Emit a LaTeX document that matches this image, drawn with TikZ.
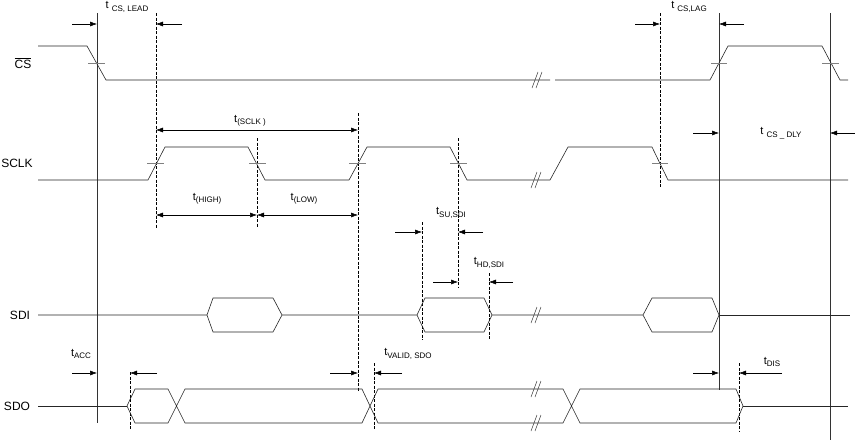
\documentclass[tikz,border=0pt]{standalone}
\usepackage{fontspec}
\setmainfont{Liberation Sans}
\usetikzlibrary{arrows.meta}
\newcommand{\tlab}[2]{{\fontsize{11}{13}\selectfont t#1\raisebox{-2.5pt}{\fontsize{8}{9}\selectfont #2}}}
\begin{document}
\begin{tikzpicture}[x=1pt,y=-1pt,
  wave/.style={line width=0.6pt,black!85},
  tick/.style={line width=0.6pt,black!50},
  solidv/.style={line width=0.5pt,black!80},
  dashv/.style={line width=0.5pt,black,dash pattern=on 3pt off 1.5pt},
  dimarrow/.style={line width=0.5pt,-{Latex[length=7pt,width=5pt]}},
  dimboth/.style={line width=0.5pt,{Latex[length=7pt,width=5pt]}-{Latex[length=7pt,width=5pt]}},
  sig/.style={font=\fontsize{12}{14}\selectfont,inner sep=0pt},
  lbl/.style={inner sep=0pt},
  brk/.pic={\draw[line width=0.5pt,black!80] (-5,8)--(1,-8) (-1,8)--(5,-8);}
]
\useasboundingbox (0,0) rectangle (855,442);

% signal names
\node[sig] (ncs) at (23,63) {$\overline{\mbox{CS}}$};
\node[sig] (nsclk) at (17,163) {SCLK};
\node[sig] (nsdi) at (20,315) {SDI};
\node[sig] (nsdo) at (17,406) {SDO};

% vertical reference lines
\draw[solidv] (97,13) -- (97,423);
\draw[solidv] (719,13) -- (719,390);
\draw[solidv] (830,13) -- (830,440);
\draw[dashv] (156,13) -- (156,228);
\draw[dashv] (257,138) -- (257,228);
\draw[dashv] (358,113) -- (358,391);
\draw[dashv] (458,138) -- (458,288);
\draw[dashv] (660,13) -- (660,188);
\draw[dashv] (422,222) -- (422,340);
\draw[dashv] (489,273) -- (489,340);
\draw[dashv] (130,372) -- (130,430);
\draw[dashv] (374,363) -- (374,430);
\draw[dashv] (739,363) -- (739,432);

% CS
\draw[wave] (38,46) -- (87,46) -- (106,80) -- (550,80);
\draw[wave] (555,80) -- (710,80) -- (728,46) -- (822,46) -- (840,80) -- (848,80);
\pic at (537,80) {brk};
\draw[tick] (88,63) -- (105,63);
\draw[tick] (711,63) -- (727,63);
\draw[tick] (822,63) -- (839,63);

% SCLK
\draw[wave] (38,180) -- (148,180) -- (165,147) -- (248,147) -- (265,180) -- (349,180)
  -- (367,147) -- (450,147) -- (467,180) -- (550,180) -- (568,147) -- (652,147)
  -- (668,180) -- (848,180);
\pic at (536,180) {brk};
\draw[tick] (147,163) -- (164,163);
\draw[tick] (249,163) -- (266,163);
\draw[tick] (349,163) -- (366,163);
\draw[tick] (450,163) -- (467,163);
\draw[tick] (652,163) -- (668,163);

% SDI
\draw[wave] (38,315) -- (207,315) -- (213,298) -- (273,298) -- (282,315) -- (273,332) -- (213,332) -- (207,315);
\draw[wave] (282,315) -- (417,315) -- (425,298) -- (484,298) -- (492,315) -- (484,332) -- (425,332) -- (417,315);
\draw[wave] (492,315) -- (643,315) -- (652,298) -- (712,298) -- (719,315) -- (712,332) -- (652,332) -- (643,315);
\draw[wave] (719,315) -- (850,315);
\pic at (536,315) {brk};

% SDO
\draw[wave] (38,406) -- (127,406);
\draw[wave] (127,406) -- (135,389) -- (168,389) -- (185,423) -- (362,423) -- (378,389)
  -- (563,389) -- (580,423) -- (736,423) -- (743,406) -- (736,389) -- (580,389)
  -- (563,423) -- (378,423) -- (362,389) -- (185,389) -- (168,423) -- (135,423) -- cycle;
\draw[wave] (743,406) -- (848,406);
\pic at (536,389) {brk};
\pic at (536,423) {brk};

% t CS,LEAD
\draw[dimarrow] (72,24) -- (97,24);
\draw[dimarrow] (182,24) -- (156,24);
\node[lbl] (tlead) at (127,7) {\tlab{ }{CS, LEAD}};
% t CS,LAG
\draw[dimarrow] (635,24) -- (660,24);
\draw[dimarrow] (744,24) -- (719,24);
\node[lbl] (tlag) at (689,7) {\tlab{ }{CS,LAG}};
% t(SCLK)
\draw[dimboth] (156,130) -- (358,130);
\node[lbl] (tsclk) at (250,121) {\tlab{}{(SCLK )}};
% t(HIGH), t(LOW)
\draw[dimboth] (156,215) -- (257,215);
\draw[dimboth] (257,215) -- (358,215);
\node[lbl] (thigh) at (207,199) {\tlab{}{(HIGH)}};
\node[lbl] (tlow) at (304,199) {\tlab{}{(LOW)}};
% t CS_DLY
\draw[dimarrow] (693,133) -- (719,133);
\draw[dimarrow] (855,133) -- (830,133);
\node[lbl] (tdly) at (781,133) {\tlab{ }{CS \_ DLY}};
% tSU,SDI
\draw[dimarrow] (395,232) -- (422,232);
\draw[dimarrow] (483,232) -- (458,232);
\node[lbl] (tsu) at (451,213) {\tlab{}{SU,SDI}};
% tHD,SDI
\draw[dimarrow] (433,282) -- (458,282);
\draw[dimarrow] (513,282) -- (489,282);
\node[lbl] (thd) at (489,263) {\tlab{}{HD,SDI}};
% tACC
\draw[dimarrow] (72,373) -- (97,373);
\draw[dimarrow] (157,373) -- (130,373);
\node[lbl] (tacc) at (81,354) {\tlab{}{ACC}};
% tVALID,SDO
\draw[dimarrow] (330,373) -- (358,373);
\draw[dimarrow] (402,373) -- (374,373);
\node[lbl] (tvalid) at (408,354) {\tlab{}{VALID, SDO}};
% tDIS
\draw[dimarrow] (693,373) -- (719,373);
\draw[dimarrow] (782,373) -- (739,373);
\node[lbl] (tdis) at (772,362) {\tlab{}{DIS}};
\end{tikzpicture}
\end{document}
